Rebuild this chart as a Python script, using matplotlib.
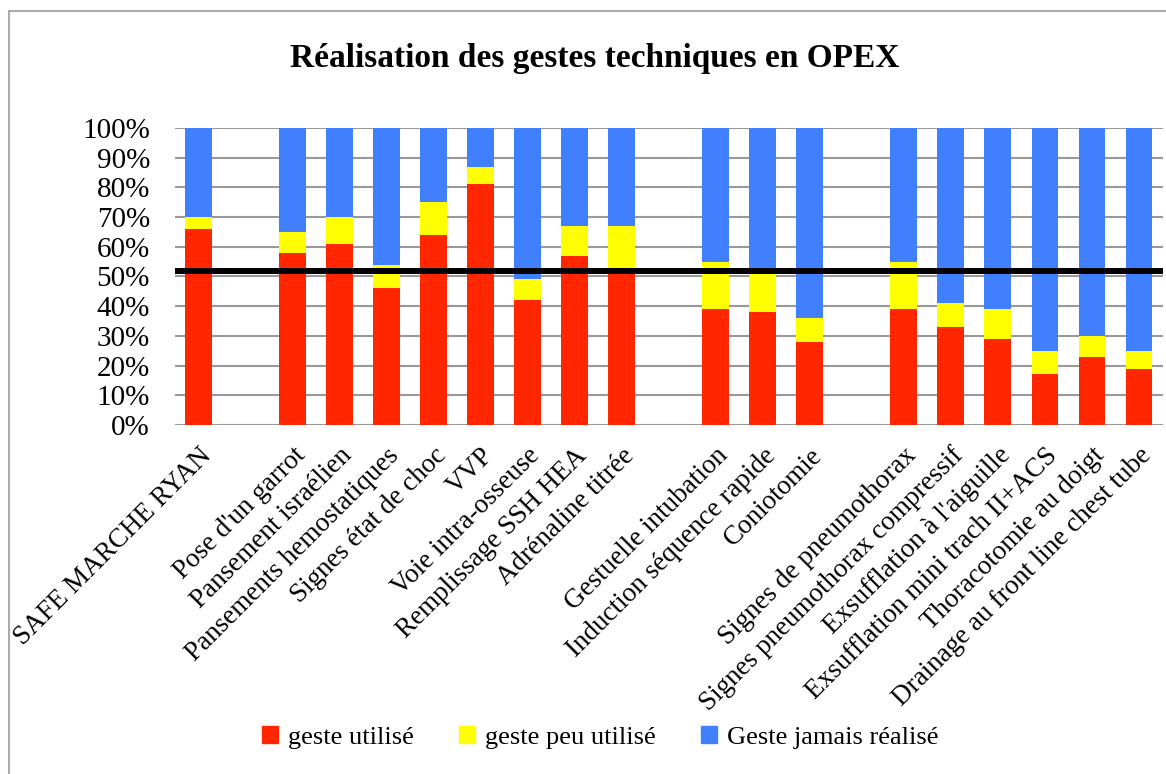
import matplotlib
matplotlib.use("Agg")
import matplotlib.pyplot as plt
import numpy as np
from matplotlib.patches import Patch

# data (percent), "" = empty slot between groups
categories = ["SAFE MARCHE RYAN", "",
              "Pose d'un garrot", "Pansement israélien", "Pansements hemostatiques",
              "Signes état de choc", "VVP", "Voie intra-osseuse", "Remplissage SSH HEA",
              "Adrénaline titrée", "",
              "Gestuelle intubation", "Induction séquence rapide", "Coniotomie", "",
              "Signes de pneumothorax", "Signes pneumothorax compressif",
              "Exsufflation à l'aiguille", "Exsufflation mini trach II+ACS",
              "Thoracotomie au doigt", "Drainage au front line chest tube"]
geste_utilise = [66, np.nan, 58, 61, 46, 64, 81, 42, 57, 53, np.nan,
                 39, 38, 28, np.nan, 39, 33, 29, 17, 23, 19]
geste_peu = [4, np.nan, 7, 9, 8, 11, 6, 7, 10, 14, np.nan,
             16, 14, 8, np.nan, 16, 8, 10, 8, 7, 6]
geste_jamais = [30, np.nan, 35, 30, 46, 25, 13, 51, 33, 33, np.nan,
                45, 48, 64, np.nan, 45, 59, 61, 75, 70, 75]
seuil = 51.7
series_names = ["geste utilisé", "geste peu utilisé", "Geste jamais réalisé"]
colors = ["#FF2600", "#FFFF00", "#4080FF"]

fig = plt.figure(figsize=(11.66, 7.74), dpi=100)
ax = fig.add_axes([0.150, 0.451, 0.847, 0.3836])

x = np.arange(len(categories))
used = np.array(geste_utilise)
few = np.array(geste_peu)
never = np.array(geste_jamais)
w = 0.57
ax.bar(x, used, w, color=colors[0], zorder=2)
ax.bar(x, few, w, bottom=used, color=colors[1], zorder=2)
ax.bar(x, never, w, bottom=used + few, color=colors[2], zorder=2)

ax.axhline(seuil, color="black", lw=4.3, zorder=4)

ax.set_xlim(-0.5, len(categories) - 0.5)
ax.set_ylim(0, 100)
ax.set_yticks(np.arange(0, 101, 10))
ax.set_yticklabels([f"{v}%" for v in range(0, 101, 10)])
ax.yaxis.grid(True, color="#999999", lw=1.5, zorder=0)
ax.set_axisbelow(True)
for s in ax.spines.values():
    s.set_visible(False)
ax.tick_params(axis="y", length=0, pad=18, labelsize=21)
ax.tick_params(axis="x", length=0, pad=13)
ax.set_xticks(x)
ax.set_xticklabels(categories, rotation=45, ha="right", rotation_mode="anchor",
                   fontsize=19.5)
for lab in ax.get_xticklabels() + ax.get_yticklabels():
    lab.set_family("Liberation Serif")

fig.text(0.51, 0.925, "Réalisation des gestes techniques en OPEX", ha="center",
         va="center", fontsize=24, fontweight="bold", family="Liberation Serif")

handles = [Patch(color=c) for c in colors]
fig.legend(handles, series_names, loc="center", bbox_to_anchor=(0.515, 0.047),
           ncol=3, frameon=False, handlelength=0.6, handleheight=0.6,
           handletextpad=0.4, columnspacing=1.7,
           prop={"family": "Liberation Serif", "size": 19})

# light frame around the chart
fig.add_artist(plt.Line2D([0.0077, 0.0077], [0, 0.986], color="#aaaaaa", lw=1.5))
fig.add_artist(plt.Line2D([0.0077, 1], [0.986, 0.986], color="#aaaaaa", lw=1.5))

fig.savefig("out.png", dpi=100)
